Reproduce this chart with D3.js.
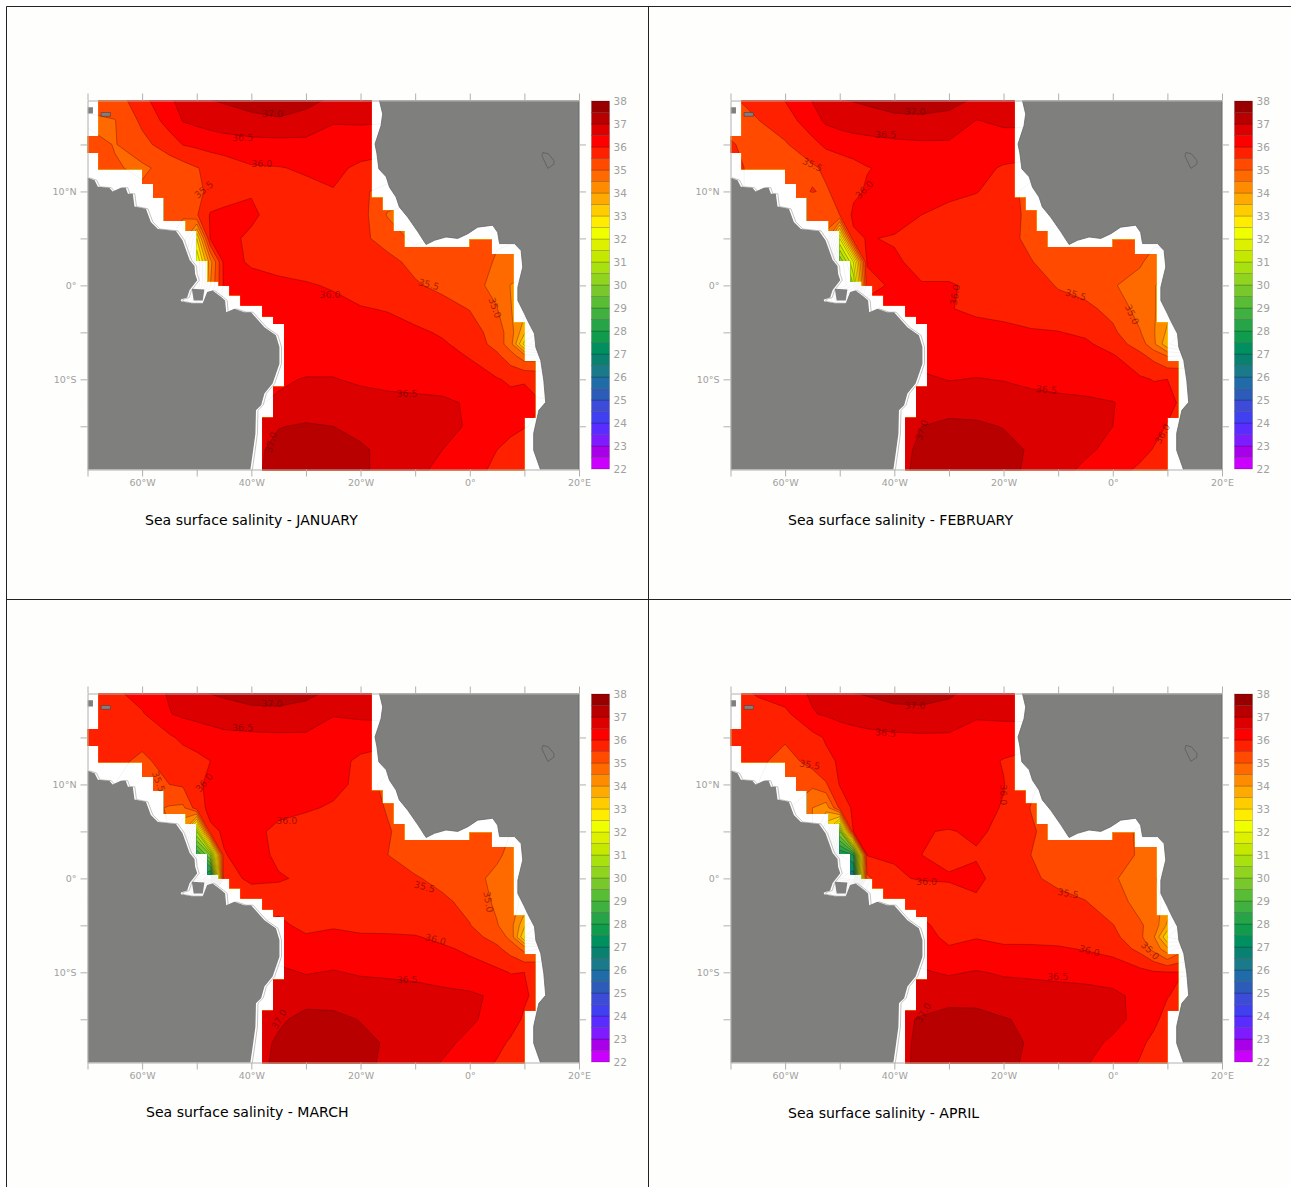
<!DOCTYPE html>
<html>
<head>
<meta charset="utf-8">
<title>Sea surface salinity</title>
<script src="https://d3js.org/d3.v7.min.js"></script>
<style>
  html, body { margin: 0; padding: 0; background: #fff; }
  svg { display: block; }
  text { font-family: "DejaVu Sans", sans-serif; }
  .axis path, .axis line { stroke: #b0b0b0; }
  .axis text { fill: #a0a0a0; font-size: 9.5px; }
  .bar text { fill: #a0a0a0; font-size: 10.5px; }
</style>
</head>
<body>
<div id="chart"></div>
<script>
// grid nodes of the salinity fields (not evenly spaced: tighter near the two river plumes)
var lons = [-70, -65, -60, -55, -52.5, -50, -47.5, -45, -40, -35, -30, -25, -20, -15, -10, -5, 0, 5, 7.5, 10, 12.5];
var lats = [20, 17.5, 15, 12.5, 10, 7.5, 5, 2.5, 0, -2.5, -5, -6.25, -7.5, -10, -12.5, -15, -17.5, -20];

// salinity, one row per latitude
var jan = [
  [35.2,35.25,35.87,36.45,36.65,36.88,37.03,37.08,37.2,37.25,37.12,36.97,36.8,36.75,36.7,36.7,36.7,36.7,36.7,36.7,36.7],
  [34.9,34.98,35.6,36.2,36.52,36.62,36.7,36.78,36.88,36.95,36.88,36.53,36.56,36.55,36.5,36.5,36.5,36.5,36.5,36.5,36.5],
  [35.25,34.97,35.35,35.75,36.02,36.1,36.2,36.25,36.32,36.33,36.33,36.32,36.22,36.1,36.05,36,36,36,36,36,36],
  [35.1,35.05,34.9,35.2,35.3,35.48,35.6,35.72,35.95,35.98,36.05,36.1,35.92,35.9,35.8,35.5,35.3,35.2,35.2,35.2,35.2],
  [35.1,35.1,35.1,35.2,35.3,35.35,35.65,35.8,35.98,35.9,35.9,35.98,35.6,35.3,35.2,35.2,35.2,35.2,35.2,35.2,35.2],
  [35.1,35.1,35.1,35.1,35.02,35.45,36.05,36.1,36.05,35.88,35.8,35.78,35.72,34.95,34.8,35,35.1,35.1,35.1,35.1,35.1],
  [35,35,35,35,34.9,33,36.05,36.08,35.95,35.78,35.72,35.65,35.6,35.33,34.85,35.1,35.1,35.02,35.03,35.05,35.05],
  [35,35,35,35,34.5,32,34.3,36.15,35.95,35.85,35.75,35.68,35.6,35.62,35.38,35.2,35.1,34.98,34.9,34.9,34.9],
  [35,35,35,35,34.5,32,34.5,36.1,36.15,36.1,36.05,35.95,35.8,35.68,35.55,35.38,35.18,34.85,34.48,34.3,34.3],
  [35,35,35,35,35,34,35.5,36.2,36.2,36.2,36.2,36.15,36.03,35.97,35.82,35.68,35.48,35.02,34.52,34.2,34.2],
  [36,36,36,36,36,36,36,36.2,36.25,36.25,36.25,36.25,36.22,36.18,36.08,35.95,35.75,35.25,34.75,33.6,33],
  [36.2,36.2,36.2,36.2,36.2,36.2,36.2,36.2,36.3,36.3,36.3,36.3,36.28,36.25,36.2,36.05,35.85,35.3,34.7,32.8,32],
  [36.2,36.2,36.2,36.2,36.2,36.2,36.2,36.2,36.33,36.33,36.33,36.33,36.3,36.3,36.25,36.15,35.97,35.6,35.2,34.7,34.7],
  [36.4,36.4,36.4,36.4,36.4,36.4,36.4,36.4,36.4,36.45,36.52,36.52,36.43,36.38,36.35,36.3,36.2,36.03,35.93,35.98,35.92],
  [36.5,36.5,36.5,36.5,36.5,36.5,36.5,36.5,36.45,36.55,36.72,36.75,36.68,36.62,36.6,36.58,36.45,36.25,36.15,36.08,36.02],
  [36.6,36.6,36.6,36.6,36.6,36.6,36.6,36.6,36.7,36.98,37.05,37,36.9,36.85,36.8,36.72,36.42,36.2,36.1,36.02,35.95],
  [36.6,36.6,36.6,36.6,36.6,36.6,36.6,36.6,36.85,37.15,37.2,37.2,37.05,36.9,36.75,36.5,36.25,36,35.88,35.8,35.8],
  [36.6,36.6,36.6,36.6,36.6,36.6,36.6,36.6,36.85,37.25,37.3,37.3,37.1,36.8,36.6,36.35,36.13,35.9,35.8,35.75,35.7]
];
var feb = [
  [35.45,35.7,36.05,36.55,36.68,37,37.05,37.1,37.2,37.2,37.15,36.98,36.75,36.7,36.6,36.6,36.6,36.6,36.6,36.6,36.6],
  [35.3,35.48,35.75,36.3,36.58,36.68,36.78,36.82,36.9,36.92,36.88,36.48,36.58,36.6,36.5,36.5,36.5,36.5,36.5,36.5,36.5],
  [35.55,35.3,35.45,35.85,36.1,36.2,36.25,36.3,36.38,36.42,36.42,36.38,36.3,36.25,36.1,36.1,36.1,36.1,36.1,36.1,36.1],
  [35.6,35.4,35.3,35.42,35.6,35.72,35.85,35.98,36.1,36.2,36.25,36.15,35.95,35.88,35.7,35.5,35.3,35.2,35.2,35.2,35.2],
  [35.6,35.4,35.3,35.52,35.45,35.65,35.9,36.05,36.15,36.12,36.1,36.02,35.82,35.25,35.2,35.2,35.2,35.2,35.2,35.2,35.2],
  [35.3,35.2,35.2,35.1,35.2,35.5,36.1,36.2,36.15,36,35.88,35.8,35.72,35.38,35.2,35.2,35.2,35.2,35.1,35.1,35.1],
  [35.2,35.2,35.2,35.1,34.9,32,35.9,36.02,35.97,35.85,35.8,35.75,35.65,35.4,35.2,35.2,35.2,35.2,35.1,35.1,35.1],
  [35,35,35,35,34,30,32,36.05,36.05,35.9,35.75,35.7,35.65,35.52,35.3,35.22,35.2,35.05,34.85,34.85,34.85],
  [35,35,35,35,34.5,30,31,35.8,36.1,36.02,36.05,35.9,35.92,35.68,35.47,35.3,35.03,34.85,34.55,34.2,34.2],
  [35.5,35.5,35.5,35.5,35.5,34,35,36.2,36.15,36.12,36.02,35.92,35.88,35.75,35.65,35.62,35.35,34.8,34.55,34.2,34.2],
  [36,36,36,36,36,36,36,36.2,36.2,36.2,36.2,36.15,36.1,36.05,36.02,35.9,35.6,35.03,34.55,33.9,33.5],
  [36.2,36.2,36.2,36.2,36.2,36.2,36.2,36.2,36.25,36.25,36.25,36.25,36.22,36.2,36.15,36.1,35.75,35.28,34.62,33.6,33],
  [36.2,36.2,36.2,36.2,36.2,36.2,36.2,36.2,36.28,36.28,36.28,36.28,36.28,36.25,36.22,36.18,36.05,35.62,35.35,34.97,35],
  [36.4,36.4,36.4,36.4,36.4,36.4,36.4,36.4,36.5,36.6,36.48,36.52,36.48,36.38,36.3,36.25,36.2,36.07,35.98,36,35.93],
  [36.5,36.5,36.5,36.5,36.5,36.5,36.5,36.5,36.7,36.75,36.8,36.78,36.72,36.68,36.64,36.6,36.52,36.3,36.2,36.1,35.95],
  [36.6,36.6,36.6,36.6,36.6,36.6,36.6,36.6,36.85,37,37.1,37.08,36.98,36.9,36.85,36.75,36.5,36.25,36.12,35.98,35.85],
  [36.6,36.6,36.6,36.6,36.6,36.6,36.6,36.6,36.7,37.15,37.2,37.2,37.15,36.95,36.8,36.6,36.35,36.12,35.98,35.85,35.8],
  [36.6,36.6,36.6,36.6,36.6,36.6,36.6,36.6,36.75,37.2,37.3,37.28,37.15,36.9,36.65,36.35,36.12,35.9,35.78,35.7,35.65]
];
var mar = [
  [35.85,35.93,36.25,36.55,36.65,36.98,37.05,37.1,37.2,37.2,37.12,36.95,36.75,36.7,36.6,36.6,36.6,36.6,36.6,36.6,36.6],
  [35.7,35.75,35.95,36.48,36.58,36.65,36.72,36.8,36.88,36.9,36.85,36.52,36.6,36.65,36.5,36.5,36.5,36.5,36.5,36.5,36.5],
  [35.6,35.6,35.62,35.92,36.12,36.2,36.28,36.35,36.38,36.4,36.4,36.35,36.2,36.15,36.1,36.1,36.1,36.1,36.1,36.1,36.1],
  [35.65,35.6,35.42,35.65,35.75,35.88,36,36.05,36.12,36.22,36.25,36.15,35.92,35.8,35.6,35.5,35.3,35.2,35.2,35.2,35.2],
  [35.6,35.5,35.35,35.5,35.58,35.92,36.1,36.15,36.2,36.2,36.18,36.12,35.9,35.25,35.2,35.2,35.2,35.2,35.2,35.2,35.2],
  [35.4,35.3,35.2,34.95,34.9,35.75,36.15,36.2,36.2,36.12,36.05,35.95,35.82,35.45,35.15,35.15,35.15,35.15,35.1,35.1,35.1],
  [35,35,35,35,34,31,35.9,36.05,36.12,35.9,35.8,35.78,35.72,35.55,35.2,35.15,35.1,35.1,35,35,35],
  [35,35,35,35,33,28.5,30,35.98,36.15,35.93,35.8,35.78,35.7,35.5,35.25,35.2,35.15,35.1,34.85,34.8,34.8],
  [35,35,35,35,33,28,27,35.9,36.05,36.03,35.95,35.85,35.85,35.72,35.55,35.35,35.2,34.85,34.6,34.3,34.3],
  [35.5,35.5,35.5,35.5,35,34,35.5,35.85,35.85,35.85,35.82,35.8,35.8,35.75,35.65,35.6,35.35,34.9,34.65,34.4,34.4],
  [36,36,36,36,36,36,36,36,36,36.1,35.88,35.95,35.9,35.88,35.85,35.78,35.52,35.03,34.7,33.6,33],
  [36.2,36.2,36.2,36.2,36.2,36.2,36.2,36.2,36.2,36.2,36.05,36.12,36.05,36.05,36.03,35.9,35.68,35.32,34.85,33,32.5],
  [36.2,36.2,36.2,36.2,36.2,36.2,36.2,36.2,36.25,36.25,36.2,36.22,36.2,36.2,36.15,36.07,35.92,35.6,35.3,34.85,35],
  [36.4,36.4,36.4,36.4,36.4,36.4,36.4,36.4,36.5,36.6,36.47,36.53,36.45,36.42,36.38,36.3,36.18,36.1,35.98,36,35.9],
  [36.5,36.5,36.5,36.5,36.5,36.5,36.5,36.5,36.7,36.72,36.8,36.8,36.75,36.72,36.68,36.62,36.58,36.42,36.25,36.05,35.9],
  [36.6,36.6,36.6,36.6,36.6,36.6,36.6,36.6,36.85,36.92,37.15,37.12,36.98,36.9,36.82,36.75,36.58,36.32,36.15,35.95,35.8],
  [36.6,36.6,36.6,36.6,36.6,36.6,36.6,36.6,36.75,37.08,37.2,37.2,37.12,36.95,36.82,36.62,36.38,36.1,35.95,35.8,35.8],
  [36.6,36.6,36.6,36.6,36.6,36.6,36.6,36.6,36.75,37.15,37.3,37.3,37.15,36.88,36.7,36.45,36.2,35.95,35.82,35.7,35.7]
];
var apr = [
  [35.8,36.1,36.3,36.57,36.68,36.97,37.03,37.08,37.2,37.2,37.1,36.88,36.78,36.7,36.6,36.6,36.6,36.6,36.6,36.6,36.6],
  [35.6,35.75,35.88,36.47,36.55,36.65,36.7,36.75,36.85,36.88,36.82,36.55,36.6,36.62,36.5,36.5,36.5,36.5,36.5,36.5,36.5],
  [35.95,35.75,35.6,35.85,36.05,36.2,36.3,36.35,36.4,36.42,36.42,36.35,36.28,36.25,36.1,36.1,36.1,36.1,36.1,36.1,36.1],
  [35.95,35.65,35.25,35.72,35.9,36.05,36.12,36.2,36.25,36.3,36.3,36.2,35.97,35.8,35.6,35.5,35.3,35.2,35.2,35.2,35.2],
  [35.7,35.5,35.1,35.1,35.45,36.03,36.1,36.2,36.25,36.25,36.25,36.2,36.02,35.6,35.2,35.2,35.2,35.2,35.2,35.2,35.2],
  [35.8,35.5,35.1,34.5,34.2,35.6,36.1,36.2,36.25,36.25,36.2,36.15,35.97,35.48,35.2,35.2,35.2,35.2,35.1,35.1,35.1],
  [35,35,35,34.5,33,30,36.05,36.15,36.2,36.02,35.98,36.05,35.93,35.58,35.2,35.2,35.15,34.95,34.9,34.9,34.9],
  [35,35,35,35,33,27.5,28,36.02,36.02,36,35.92,35.97,35.85,35.5,35.25,35.2,35.12,34.97,34.8,34.75,34.75],
  [35,35,35,35,33,27,26.5,35.4,35.97,36.02,36.03,36.08,35.85,35.55,35.42,35.25,35.05,34.8,34.55,34.3,34.3],
  [35.5,35.5,35.5,35.5,35,34,35,35.7,35.8,35.82,35.85,35.95,35.82,35.72,35.6,35.52,35.2,34.85,34.62,34.4,34.4],
  [36,36,36,36,36,36,36,36,36,36.1,35.8,35.82,35.8,35.78,35.75,35.68,35.52,35.05,34.85,33.9,33],
  [36.2,36.2,36.2,36.2,36.2,36.2,36.2,36.2,36.2,36.2,35.88,35.98,35.92,35.9,35.85,35.82,35.65,35.1,34.58,33,32.5],
  [36.2,36.2,36.2,36.2,36.2,36.2,36.2,36.2,36.25,36.25,36.05,36.12,36.05,36.06,36.05,35.97,35.85,35.35,34.85,34.15,34.8],
  [36.4,36.4,36.4,36.4,36.4,36.4,36.4,36.4,36.5,36.55,36.45,36.53,36.45,36.42,36.38,36.35,36.28,36.15,36.05,36.03,36.02],
  [36.5,36.5,36.5,36.5,36.5,36.5,36.5,36.5,36.7,36.72,36.8,36.78,36.72,36.7,36.68,36.65,36.6,36.38,36.22,36.02,35.9],
  [36.6,36.6,36.6,36.6,36.6,36.6,36.6,36.6,36.85,37.05,37.2,37.2,37.03,36.92,36.85,36.75,36.65,36.35,36.1,35.85,35.8],
  [36.6,36.6,36.6,36.6,36.6,36.6,36.6,36.6,36.75,37.15,37.3,37.3,37.2,36.93,36.82,36.65,36.42,36.08,35.9,35.75,35.7],
  [36.6,36.6,36.6,36.6,36.6,36.6,36.6,36.6,36.72,37.2,37.35,37.35,37.15,36.88,36.72,36.52,36.25,35.95,35.78,35.65,35.6]
];

// contour labels: [lon, lat, text, rotation]
var janLabels = [[-36.1,18.3,'37.0',0],[-41.6,15.75,'36.5',0],[-38.1,13,'36.0',0],[-48.7,10.2,'35.5',-40],[-25.6,-1,'36.0',0],[-11.5,-11.5,'36.5',0],[-36.4,-16.7,'37.0',-75],[-7.5,0.1,'35.5',15],[4.6,-2.4,'35.0',70]];
var febLabels = [[-36.2,18.5,'37.0',0],[-41.6,16,'36.5',0],[-55,12.85,'35.5',25],[-45.5,10.2,'36.0',-45],[-28.9,-1,'36.0',-80],[-6.8,-1,'35.5',15],[3.5,-3.1,'35.0',65],[-12.15,-11.1,'36.5',5],[-35,-15.4,'37.0',-70],[9.1,-15.8,'36.0',-60]];
var marLabels = [[-36.2,18.55,'37.0',0],[-41.6,16,'36.5',0],[-48.6,10.2,'36.0',-50],[-57,10.3,'35.5',70],[-33.5,6.1,'36.0',0],[-8.3,-0.9,'35.5',15],[3.4,-2.5,'35.0',80],[-6.3,-6.5,'36.0',15],[-11.5,-10.8,'36.5',0],[-34.9,-15,'37.0',-60]];
var aprLabels = [[-36.2,18.35,'37.0',0],[-41.6,15.5,'36.5',5],[-55.5,12.1,'35.5',10],[-20.1,8.9,'36.0',90],[-34.1,-0.35,'36.0',0],[-8.2,-1.6,'35.5',10],[-4.3,-7.7,'36.0',15],[6.85,-7.7,'35.0',45],[-10.1,-10.5,'36.5',0],[-34.7,-14.3,'37.0',-60]];

var titles = ['Sea surface salinity - JANUARY', 'Sea surface salinity - FEBRUARY', 'Sea surface salinity - MARCH', 'Sea surface salinity - APRIL'];

// colour bar, lowest band first, 0.5 wide each
var levels = d3.range(22, 38.5, 0.5);
var barColors = ['#cc00ff','#a800e8','#7f1cff','#5a2cff','#4040f0','#3c4cd8','#2c5cb8','#206ca8','#1a7a8a','#0a8070','#009060','#109c4c','#28a448','#40b040','#58bc34','#78c82c',
  '#90d420','#a8e010','#c4e800','#dcf000','#f0ff00','#ffec00','#ffcc00','#ffaa00','#ff8c00','#ff6a00','#ff4a00','#ff2000','#ff0000','#dc0000','#b80000','#980000'];
var barTicks = d3.range(22, 39);
var lonTicks = d3.range(-70, 21, 10);
var latTicks = d3.range(-15, 16, 5);

// the model's ocean cells, a stepped outline
var ocean = [[-68,19.7],[-68,15.9],[-70,15.9],[-70,14.1],[-68,14.1],[-68,12.35],[-60,12.35],[-60,10.8],[-58,10.8],[-58,9.33],[-56,9.33],[-56,6.85],[-52,6.85],[-52,5.78],[-50,5.78],[-50,2.6],[-48,2.6],[-48,0.42],[-46,0.42],[-46,-0.04],[-44,-0.04],[-44,-1.06],[-42,-1.06],[-42,-2.13],[-38,-2.13],[-38,-3.3],[-36,-3.3],[-36,-4.11],[-34,-4.11],[-34,-10.8],[-36,-10.8],[-36,-14.08],[-38,-14.08],[-38,-19.7],[10,-19.7],[10,-14.08],[12,-14.08],[12,-8.09],[10,-8.09],[10,-3.95],[8,-3.95],[8,3.33],[4,3.33],[4,4.86],[0,4.86],[0,4.08],[-12,4.08],[-12,5.78],[-14,5.78],[-14,7.98],[-16,7.98],[-16,9.33],[-18,9.33],[-18,19.7]];

var southAmerica = [[-70,11.45],[-68.7,11.2],[-68.1,10.5],[-66,10.4],[-65.4,10],[-63.9,10.4],[-63,10.4],[-62.6,9.75],[-61.7,9.75],[-61.4,8.4],[-59.3,8.15],[-58.4,6.75],[-57.1,6],[-53.8,5.8],[-52.6,4.8],[-51.3,2.7],[-50.4,2.05],[-50.3,1.25],[-49.9,0.55],[-51.3,-0.5],[-51.75,-1.3],[-52.9,-1.5],[-52.9,-1.7],[-50.9,-1.9],[-48.9,-1.9],[-48.1,-0.7],[-47.1,-0.55],[-45.5,-1.25],[-44.8,-1.6],[-44.6,-2.85],[-43.1,-2.5],[-41.3,-2.85],[-40.05,-2.85],[-37.6,-4.45],[-35.5,-5.3],[-34.85,-6.55],[-34.85,-8.35],[-36.1,-10.45],[-37.6,-11.5],[-38.2,-12.75],[-39.15,-13.3],[-39.25,-15.8],[-39.75,-17.9],[-40.2,-19.7],[-70,-19.7]];
var africa = [[-16.55,19.7],[-15.95,18.25],[-16.25,17],[-17.35,15.05],[-17,14],[-16.65,12.4],[-15.3,11.55],[-14.7,10.45],[-13.5,9.4],[-12.9,8.35],[-11.35,7.25],[-9.5,5.7],[-8,4.35],[-6.45,4.8],[-4.35,5.15],[-2.2,5],[-0.35,5.5],[1.45,6.2],[4.2,6.4],[5.1,5.65],[5.45,4.45],[8.2,4.45],[9.4,3.7],[9.7,1.95],[8.8,-0.2],[8.8,-1.6],[10,-3],[10.6,-3.75],[11.85,-5.15],[12.1,-6.6],[13,-8],[13.55,-10.1],[13.9,-12.45],[12.65,-13.3],[11.7,-15.75],[11.7,-17.55],[13,-19.7],[20,-19.7],[20,19.7]];
var marajo = [[-50.9,-0.35],[-48.6,-0.45],[-48.9,-1.6],[-50.55,-1.6]];
var hispaniola = [[-70,18.95],[-69,18.95],[-69,18.3],[-70,18.3]];
var puertoRico = [[-67.5,18.4],[-65.8,18.4],[-65.8,18],[-67.5,18]];
var lakeChad = [[13.4,14.15],[14.4,14],[15.4,13.3],[15.4,12.9],[14.3,12.45],[13.2,13.8]];

var width = 1291, height = 1187;
var plotW = 491.5, plotH = 369;

var svg = d3.select('#chart').append('svg')
    .attr('width', width)
    .attr('height', height);

svg.append('rect').attr('x', 6).attr('y', 6).attr('width', width).attr('height', height).style('fill', '#fefefc');

// frame between the four maps
var frame = d3.path();
frame.moveTo(6.5, height); frame.lineTo(6.5, 6.5); frame.lineTo(width, 6.5);
frame.moveTo(648.5, 6); frame.lineTo(648.5, height);
frame.moveTo(6, 599.5); frame.lineTo(width, 599.5);
svg.append('path').attr('d', frame.toString()).style('fill', 'none').style('stroke', '#222');

var x = d3.scaleLinear().domain([-70, 20]).range([0, plotW]);
var y = d3.scaleLinear().domain([-19.6, 19.68]).range([plotH, 0]);
var yBar = d3.scaleLinear().domain([22, 38]).range([plotH - 0.5, 0.5]);

var ring = d3.line().x(function(d) { return x(d[0]); }).y(function(d) { return y(d[1]); }).curve(d3.curveLinearClosed);

var panels = [
  {grid: jan, labels: janLabels, title: titles[0], dx: 87,  dy: 100, tx: 145, ty: 525},
  {grid: feb, labels: febLabels, title: titles[1], dx: 730, dy: 100, tx: 788, ty: 525},
  {grid: mar, labels: marLabels, title: titles[2], dx: 87,  dy: 693, tx: 146, ty: 1117},
  {grid: apr, labels: aprLabels, title: titles[3], dx: 730, dy: 693, tx: 788, ty: 1118}
];

// one extra node on every side keeps the contour outlines off the visible edges
var padLons = [-75].concat(lons, [25]);
var padLats = [25].concat(lats, [-25]);
var lonAt = d3.scaleLinear().domain(d3.range(padLons.length)).range(padLons).clamp(true);
var latAt = d3.scaleLinear().domain(d3.range(padLats.length)).range(padLats).clamp(true);

function padGrid(grid) {
  var rows = grid.map(function(r) { return [r[0]].concat(r, [r[r.length - 1]]); });
  return [rows[0]].concat(rows, [rows[rows.length - 1]]);
}

// d3.contours puts node i at i + 0.5
var gridPath = d3.geoPath(d3.geoTransform({
  point: function(i, j) { this.stream.point(x(lonAt(i - 0.5)), y(latAt(j - 0.5))); }
}));

panels.forEach(function(p, k) {
  var g = svg.append('g').attr('transform', 'translate(' + (p.dx + 0.5) + ',' + (p.dy + 0.5) + ')');

  g.append('rect').attr('width', plotW).attr('height', plotH).style('fill', '#fff');

  var defs = g.append('defs');
  defs.append('clipPath').attr('id', 'plot' + k).append('rect').attr('width', plotW).attr('height', plotH);
  defs.append('clipPath').attr('id', 'sea' + k).append('path').attr('d', ring(ocean));

  var contours = d3.contours()
      .size([padLons.length, padLats.length])
      .thresholds(levels.slice(0, -1))(d3.merge(padGrid(p.grid)));

  // contour lines also run on faintly across the masked cells
  g.append('g').attr('clip-path', 'url(#plot' + k + ')')
    .selectAll('path').data(contours).enter().append('path')
      .attr('d', gridPath)
      .style('fill', 'none')
      .style('stroke', '#e2e2e2')
      .style('stroke-width', 0.4);

  var sea = g.append('g').attr('clip-path', 'url(#sea' + k + ')');
  sea.append('g').selectAll('path').data(contours).enter().append('path')
      .attr('d', gridPath)
      .style('fill', function(d, i) { return barColors[i]; })
      .style('stroke', 'none');
  sea.append('g').selectAll('path').data(contours).enter().append('path')
      .attr('d', gridPath)
      .style('fill', 'none')
      .style('stroke', '#400')
      .style('stroke-opacity', 0.55)
      .style('stroke-width', 0.6);

  // labels on the contours
  g.append('g').selectAll('text').data(p.labels).enter().append('text')
      .attr('transform', function(d) { return 'translate(' + x(d[0]) + ',' + y(d[1]) + ') rotate(' + d[3] + ')'; })
      .attr('text-anchor', 'middle')
      .attr('dy', '0.35em')
      .style('font-size', '9.5px')
      .style('fill', '#500')
      .style('fill-opacity', 0.55)
      .text(function(d) { return d[2]; });

  // land
  var land = g.append('g').attr('clip-path', 'url(#plot' + k + ')');
  land.append('path').attr('d', ring(southAmerica))
      .attr('transform', 'translate(2,0)')
      .style('fill', 'none').style('stroke', '#b4b4b4').style('stroke-width', 0.8);
  [southAmerica, africa, marajo, hispaniola].forEach(function(shape) {
    land.append('path').attr('d', ring(shape)).style('fill', '#7f807e').style('stroke', 'none');
  });
  land.append('path').attr('d', ring(africa)).style('fill', 'none').style('stroke', '#666').style('stroke-width', 0.8);
  land.append('path').attr('d', ring(lakeChad)).style('fill', 'none').style('stroke', '#5a5a5a').style('stroke-width', 0.8);
  land.append('path').attr('d', ring(puertoRico)).style('fill', '#7f807e').style('stroke', '#633').style('stroke-width', 0.6);

  // axes
  g.append('g').attr('class', 'axis').attr('transform', 'translate(0,' + plotH + ')')
    .call(d3.axisBottom(x).tickValues(lonTicks).tickSize(7).tickSizeOuter(0).tickPadding(3).tickFormat(function(d) {
      if (d % 20 !== 0) return '';
      return d === 0 ? '0°' : Math.abs(d) + '°' + (d < 0 ? 'W' : 'E');
    }));
  g.append('g').attr('class', 'axis')
    .call(d3.axisTop(x).tickValues(lonTicks).tickSize(7).tickSizeOuter(0).tickFormat(''));
  g.append('g').attr('class', 'axis')
    .call(d3.axisLeft(y).tickValues(latTicks).tickSize(7).tickSizeOuter(0).tickPadding(4).tickFormat(function(d) {
      if (d % 10 !== 0) return '';
      return d === 0 ? '0°' : Math.abs(d) + '°' + (d < 0 ? 'S' : 'N');
    }));
  g.append('g').attr('class', 'axis').attr('transform', 'translate(' + plotW + ',0)')
    .call(d3.axisRight(y).tickValues(latTicks).tickSize(7).tickSizeOuter(0).tickFormat(''));

  // colour bar
  var bar = g.append('g').attr('class', 'bar').attr('transform', 'translate(504,0)');
  bar.selectAll('rect').data(barColors).enter().append('rect')
      .attr('width', 18)
      .attr('y', function(d, i) { return yBar(levels[i + 1]); })
      .attr('height', function(d, i) { return yBar(levels[i]) - yBar(levels[i + 1]); })
      .style('fill', function(d) { return d; })
      .style('stroke', '#000')
      .style('stroke-opacity', 0.3)
      .style('stroke-width', 0.6);
  bar.append('g').attr('transform', 'translate(18,0)')
    .call(d3.axisRight(yBar).tickValues(barTicks).tickSize(0).tickPadding(4).tickFormat(d3.format('d')))
    .call(function(s) { s.select('.domain').remove(); });

  svg.append('text')
      .attr('x', p.tx)
      .attr('y', p.ty)
      .style('font-size', '14.05px')
      .style('fill', '#000')
      .text(p.title);
});
</script>
</body>
</html>
